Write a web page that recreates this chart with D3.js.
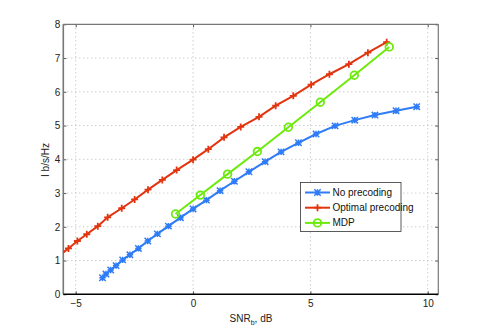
<!DOCTYPE html>
<html><head><meta charset="utf-8">
<script src="https://cdn.jsdelivr.net/npm/d3@7"></script>
<style>
body{margin:0;background:#fff;}
text{font-family:"Liberation Sans Narrow","Arial Narrow","Liberation Sans",Arial,sans-serif;}
</style></head>
<body><svg id="c" width="485" height="332"></svg>
<script>
// ---- data ----
const xTicks = [-5, 0, 5, 10];
const yTicks = [0, 1, 2, 3, 4, 5, 6, 7, 8];
const seriesNames = ["No precoding", "Optimal precoding", "MDP"];

const noPrecX = [-3.86,-3.71,-3.51,-3.28,-3.00,-2.69,-2.33,-1.93,-1.52,-1.05,-0.54,0.00,0.57,1.15,1.76,2.38,3.07,3.75,4.49,5.24,6.05,6.89,7.75,8.65,9.53];
const noPrecY = [0.49,0.60,0.72,0.85,1.02,1.17,1.36,1.58,1.79,2.02,2.27,2.53,2.79,3.07,3.35,3.63,3.93,4.22,4.49,4.75,4.99,5.16,5.31,5.44,5.56];

const optX = [-5.70,-5.31,-4.93,-4.53,-4.06,-3.64,-3.04,-2.49,-1.92,-1.31,-0.70,0.00,0.65,1.32,2.03,2.81,3.52,4.27,5.03,5.81,6.64,7.45,8.25];
const optY = [1.15,1.36,1.58,1.78,2.02,2.28,2.55,2.81,3.10,3.39,3.68,3.99,4.30,4.65,4.96,5.26,5.59,5.88,6.21,6.52,6.82,7.16,7.47];

const mdpX = [-0.75,0.31,1.47,2.74,4.06,5.42,6.87,8.36];
const mdpY = [2.38,2.94,3.56,4.23,4.95,5.69,6.49,7.33];

const xLabel = "SNR";
const yLabel = "I b/s/Hz";

// ---- drawing ----
const svg = d3.select("#c");
const L = 63.3, R = 438.3, T = 24.3, B = 294.3;
const x = d3.scaleLinear().domain([-5.53, 10.45]).range([L, R]);
const y = d3.scaleLinear().domain([0, 8]).range([B, T]);

const cBlue = "#2f7cf6", cRed = "#e2340f", cGreen = "#6cea0c";

// grid
const g = svg.append("g");
g.selectAll(".gx").data(xTicks).enter().append("line")
  .attr("x1", d => x(d)).attr("x2", d => x(d)).attr("y1", T).attr("y2", B)
  .attr("stroke", "#b8b8b8").attr("stroke-width", 1).attr("stroke-dasharray", "1,3");
g.selectAll(".gy").data(yTicks.filter(d => d > 0 && d < 8)).enter().append("line")
  .attr("x1", L).attr("x2", R).attr("y1", d => y(d)).attr("y2", d => y(d))
  .attr("stroke", "#b8b8b8").attr("stroke-width", 1).attr("stroke-dasharray", "1,3");

// axes
const axB = d3.axisBottom(x).tickValues(xTicks).tickSize(-3).tickPadding(6).tickFormat(d => d < 0 ? "\u2212" + Math.abs(d) : d);
const axT = d3.axisTop(x).tickValues(xTicks).tickSize(-3).tickFormat("");
const axL = d3.axisLeft(y).tickValues(yTicks).tickSize(-3).tickPadding(3);
const axR = d3.axisRight(y).tickValues(yTicks).tickSize(-3).tickFormat("");

function styleAxis(sel){
  sel.select(".domain").remove();
  sel.selectAll(".tick line").attr("stroke", "#555");
  sel.selectAll("text").attr("font-size", 10).attr("fill", "#222");
}
svg.append("g").attr("transform", `translate(0,${B})`).call(axB).call(styleAxis);
svg.append("g").attr("transform", `translate(0,${T})`).call(axT).call(styleAxis);
svg.append("g").attr("transform", `translate(${L},0)`).call(axL).call(styleAxis);
svg.append("g").attr("transform", `translate(${R},0)`).call(axR).call(styleAxis);

// frame
svg.append("line").attr("x1", L).attr("x2", R).attr("y1", T).attr("y2", T).attr("stroke", "#777").attr("stroke-width", 1.2);
svg.append("line").attr("x1", R).attr("x2", R).attr("y1", T).attr("y2", B).attr("stroke", "#777").attr("stroke-width", 1.2);
svg.append("line").attr("x1", L).attr("x2", L).attr("y1", T).attr("y2", B).attr("stroke", "#777").attr("stroke-width", 1.6);
svg.append("line").attr("x1", L).attr("x2", R).attr("y1", B).attr("y2", B).attr("stroke", "#000").attr("stroke-width", 1.4);

// clip
svg.append("clipPath").attr("id", "clip").append("rect")
  .attr("x", L).attr("y", T).attr("width", R - L).attr("height", B - T);
const plot = svg.append("g").attr("clip-path", "url(#clip)");

const line = d3.line().x(d => x(d[0])).y(d => y(d[1]));

function drawMarker(sel, type, col, px, py){
  if (type === "circle") {
    sel.append("circle").attr("cx", px).attr("cy", py).attr("r", 3.8)
      .attr("fill", "none").attr("stroke", col).attr("stroke-width", 1.8);
  } else if (type === "plus") {
    const s = 3.5;
    sel.append("path").attr("d", `M${px - s},${py}H${px + s}M${px},${py - s}V${py + s}`)
      .attr("stroke", col).attr("stroke-width", 1.8);
  } else {
    const s = 3.2;
    sel.append("path").attr("d", `M${px - s},${py - s}L${px + s},${py + s}M${px - s},${py + s}L${px + s},${py - s}M${px - s},${py}H${px + s}M${px},${py - s}V${py + s}`)
      .attr("stroke", col).attr("stroke-width", 1.5);
  }
}

const series = [
  {name: seriesNames[0], xs: noPrecX, ys: noPrecY, col: cBlue, m: "star"},
  {name: seriesNames[1], xs: optX, ys: optY, col: cRed, m: "plus"},
  {name: seriesNames[2], xs: mdpX, ys: mdpY, col: cGreen, m: "circle"}
];
series.forEach(s => {
  const pts = s.xs.map((v, i) => [v, s.ys[i]]);
  plot.append("path").datum(pts).attr("d", line).attr("fill", "none")
    .attr("stroke", s.col).attr("stroke-width", 2);
  const mg = plot.append("g");
  pts.forEach(p => drawMarker(mg, s.m, s.col, x(p[0]), y(p[1])));
});

// legend
const lg = svg.append("g");
lg.append("rect").attr("x", 300.5).attr("y", 182.5).attr("width", 100.5).attr("height", 49)
  .attr("fill", "#fff").attr("stroke", "#333").attr("stroke-width", 0.8);
series.forEach((s, i) => {
  const yy = 192.5 + i * 15.2;
  lg.append("line").attr("x1", 305).attr("x2", 330).attr("y1", yy).attr("y2", yy)
    .attr("stroke", s.col).attr("stroke-width", 2);
  drawMarker(lg, s.m, s.col, 317.5, yy);
  lg.append("text").attr("x", 332.5).attr("y", yy).attr("dy", "0.35em")
    .attr("font-size", 10).attr("fill", "#111").text(s.name);
});

// axis labels
const xl = svg.append("text").attr("x", 251).attr("y", 322).attr("text-anchor", "middle")
  .attr("font-size", 10).attr("fill", "#222");
xl.append("tspan").text(xLabel);
xl.append("tspan").attr("font-size", 7).attr("dy", 3).text("b");
xl.append("tspan").attr("dy", -3).text(", dB");

svg.append("text").attr("transform", "translate(49,160) rotate(-90)")
  .attr("text-anchor", "middle").attr("font-size", 10).attr("fill", "#222").text(yLabel);
</script></body></html>
